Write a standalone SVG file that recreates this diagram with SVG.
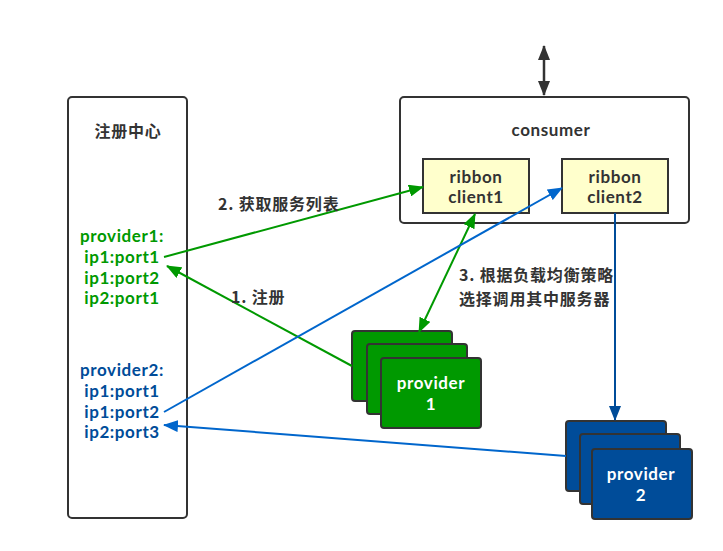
<svg xmlns="http://www.w3.org/2000/svg" width="723" height="551" viewBox="0 0 723 551">
<style>
.t{font-family:Lato,"Open Sans","Noto Sans CJK SC",sans-serif;font-weight:bold;font-size:17px;letter-spacing:0.6px;text-anchor:middle}
.cn{font-family:"Noto Sans CJK SC","Open Sans",sans-serif;font-weight:bold;font-size:16px;letter-spacing:0.8px;fill:#333}
.dk{fill:#333}
.g{fill:#009900}
.b{fill:#004C99}
.w{fill:#fff}
.box{fill:#fff;stroke:#333;stroke-width:2}
.rib{fill:#FFFFCC;stroke:#333;stroke-width:2}
.p1{fill:#009900;stroke:#333;stroke-width:2}
.p2{fill:#004C99;stroke:#333;stroke-width:2}
.lg{stroke:#009900;stroke-width:2;fill:none}
.lb{stroke:#0066CC;stroke-width:2;fill:none}
.ld{stroke:#004C99;stroke-width:2;fill:none}
.lk{stroke:#333;stroke-width:2.5;fill:none}
</style>
<defs>
<marker id="ag" markerUnits="userSpaceOnUse" markerWidth="16" markerHeight="12" refX="14" refY="6" orient="auto-start-reverse"><path d="M0,0 L15,6 L0,12 Z" fill="#009900"/></marker>
<marker id="ab" markerUnits="userSpaceOnUse" markerWidth="16" markerHeight="12" refX="14" refY="6" orient="auto-start-reverse"><path d="M0,0 L15,6 L0,12 Z" fill="#0066CC"/></marker>
<marker id="ad" markerUnits="userSpaceOnUse" markerWidth="16" markerHeight="12" refX="14" refY="6" orient="auto-start-reverse"><path d="M0,0 L15,6 L0,12 Z" fill="#004C99"/></marker>
<marker id="ak" markerUnits="userSpaceOnUse" markerWidth="16" markerHeight="12" refX="14" refY="6" orient="auto-start-reverse"><path d="M0,0 L15,6 L0,12 Z" fill="#333"/></marker>
</defs>

<g id="registry">
<rect class="box" x="68" y="97" width="119" height="421" rx="4"/>
<text class="cn" x="128" y="137" text-anchor="middle">注册中心</text>
<text class="t g" x="122" y="242">provider1:</text>
<text class="t g" x="122" y="263">ip1:port1</text>
<text class="t g" x="122" y="284">ip1:port2</text>
<text class="t g" x="122" y="304">ip2:port1</text>
<text class="t b" x="122" y="376">provider2:</text>
<text class="t b" x="122" y="397">ip1:port1</text>
<text class="t b" x="122" y="418">ip1:port2</text>
<text class="t b" x="122" y="438">ip2:port3</text>
</g>

<g id="consumer">
<rect class="box" x="400" y="97" width="289" height="126" rx="4"/>
<text class="t dk" x="551" y="136">consumer</text>
</g>

<g id="ribbon-client1">
<rect class="rib" x="423" y="159" width="106" height="54"/>
<text class="t dk" x="476" y="183">ribbon</text>
<text class="t dk" x="476" y="203">client1</text>
</g>

<g id="ribbon-client2">
<rect class="rib" x="562" y="159" width="106" height="54"/>
<text class="t dk" x="615" y="183">ribbon</text>
<text class="t dk" x="615" y="203">client2</text>
</g>

<g id="provider1">
<rect class="p1" x="352" y="331" width="100" height="70" rx="3"/>
<rect class="p1" x="367" y="344" width="100" height="70" rx="3"/>
<rect class="p1" x="381" y="358" width="100" height="70" rx="3"/>
<text class="t w" x="431" y="389">provider</text>
<text class="t w" x="431" y="410">1</text>
</g>

<g id="provider2">
<rect class="p2" x="566" y="421" width="100" height="70" rx="3"/>
<rect class="p2" x="580" y="434" width="100" height="70" rx="3"/>
<rect class="p2" x="592" y="449" width="100" height="70" rx="3"/>
<text class="t w" x="641" y="480">provider</text>
<text class="t w" x="641" y="501">2</text>
</g>

<g id="connectors">
<line class="lk" x1="544" y1="46" x2="544" y2="95" marker-start="url(#ak)" marker-end="url(#ak)"/>
<line class="lg" x1="164" y1="257" x2="423" y2="187" marker-end="url(#ag)"/>
<line class="lg" x1="352" y1="366" x2="167" y2="266" marker-end="url(#ag)"/>
<line class="lg" x1="475" y1="214" x2="419" y2="332" marker-start="url(#ag)" marker-end="url(#ag)"/>
<line class="lb" x1="164" y1="412" x2="562" y2="188" marker-end="url(#ab)"/>
<line class="lb" x1="566" y1="456" x2="164" y2="425" marker-end="url(#ab)"/>
<line class="ld" x1="615" y1="213" x2="615" y2="420" marker-end="url(#ad)"/>
<text class="cn" x="218" y="210">2. 获取服务列表</text>
<text class="cn" x="231" y="303">1. 注册</text>
<text class="cn" x="459" y="281">3. 根据负载均衡策略</text>
<text class="cn" x="459" y="305">选择调用其中服务器</text>
</g>
</svg>
